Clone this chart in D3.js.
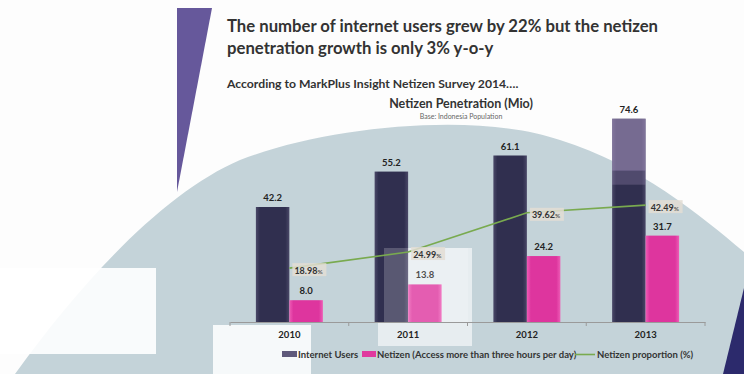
<!DOCTYPE html>
<html>
<head>
<meta charset="utf-8">
<script src="https://cdn.jsdelivr.net/npm/d3@7"></script>
<style>
  body { margin: 0; background: #fff; }
  svg { display: block; font-family: Lato, "Open Sans", sans-serif; }
</style>
</head>
<body>
<div id="chart"></div>
<script>
// data
var years = ['2010', '2011', '2012', '2013'];
var internetUsers = [42.2, 55.2, 61.1, 74.6];
var netizens = [8.0, 13.8, 24.2, 31.7];
var proportion = [18.98, 24.99, 39.62, 42.49];
var seriesNames = ['Internet Users', 'Netizen (Access more than three hours per day)', 'Netizen proportion (%)'];

var W = 744, H = 374;
var svg = d3.select('#chart').append('svg').attr('width', W).attr('height', H);

var defs = svg.append('defs');
function barGrad(id, edge, mid) {
  var g = defs.append('linearGradient').attr('id', id).attr('x1', 0).attr('x2', 1).attr('y1', 0).attr('y2', 0);
  g.append('stop').attr('offset', '0%').attr('stop-color', edge);
  g.append('stop').attr('offset', '12%').attr('stop-color', mid);
  g.append('stop').attr('offset', '88%').attr('stop-color', mid);
  g.append('stop').attr('offset', '100%').attr('stop-color', edge);
}
barGrad('gNavy', '#4a4868', '#302f4f');
barGrad('gPink', '#ee5cb6', '#de359e');

// slide background
svg.append('rect').attr('width', W).attr('height', H).attr('fill', '#fdfdfd');
svg.append('path')
   .attr('d', 'M15,374 C90,270 170,190 240,160 C330,125 480,112 560,140 C640,165 700,215 744,252 L744,374 Z')
   .attr('fill', '#c4d3d9');
svg.append('path').attr('d', 'M177,8 L212,8 L177,192 Z').attr('fill', '#66589b');
svg.append('path').attr('d', 'M744,288 L744,374 L723,374 Z').attr('fill', '#2c2a6c');

// washed-out patches of the screen capture (behind the chart)
var patches = [
  [0, 268, 156, 86, 0.9],
  [213, 325, 98, 49, 0.85],
  [378, 248, 94, 98, 0.6]
];
svg.append('g').selectAll('rect').data(patches).enter().append('rect')
   .attr('x', function(d){ return d[0]; }).attr('y', function(d){ return d[1]; })
   .attr('width', function(d){ return d[2]; }).attr('height', function(d){ return d[3]; })
   .attr('fill', '#fff').attr('opacity', function(d){ return d[4]; });

// titles
svg.append('text').attr('x', 227).attr('y', 32).attr('font-size', 16.7).attr('font-weight', 700).attr('fill', '#333')
   .text('The number of internet users grew by 22% but the netizen');
svg.append('text').attr('x', 227).attr('y', 54).attr('font-size', 16.7).attr('font-weight', 700).attr('fill', '#333')
   .text('penetration growth is only 3% y-o-y');
svg.append('text').attr('x', 227).attr('y', 88).attr('font-size', 12.2).attr('font-weight', 700).attr('fill', '#333')
   .text('According to MarkPlus Insight Netizen Survey 2014….');
svg.append('text').attr('x', 461).attr('y', 108).attr('text-anchor', 'middle').attr('font-size', 12.5).attr('font-weight', 700).attr('fill', '#333')
   .text('Netizen Penetration (Mio)');
svg.append('text').attr('x', 461).attr('y', 119).attr('text-anchor', 'middle').attr('font-size', 7).attr('fill', '#666')
   .text('Base: Indonesia Population');

// scales
var baseY = 322;
var x0 = d3.scaleBand().domain(years).range([230, 705]);
var x1 = d3.scaleBand().domain(['internet', 'netizen'])
   .range([x0.bandwidth() / 2 - 33.5, x0.bandwidth() / 2 + 33.5]);
var y = d3.scaleLinear().domain([0, 80]).range([baseY, baseY - 218]);
var yPct = d3.scaleLinear().domain([0, 50]).range([baseY - 3, baseY - 137]);

// axis
var axis = d3.axisBottom(x0).tickSize(0).tickPadding(9);
var ax = svg.append('g').attr('transform', 'translate(0,' + baseY + ')').call(axis);
ax.select('.domain').attr('stroke', '#9a9a9a');
ax.selectAll('.tick text').attr('font-size', 9.5).attr('font-weight', 700).attr('fill', '#222')
  .attr('font-family', 'Lato, "Open Sans", sans-serif');
svg.append('g').selectAll('line').data(years.concat(['end']))
   .enter().append('line')
   .attr('x1', function(d, i){ return i < years.length ? x0(d) : x0.range()[1]; })
   .attr('x2', function(d, i){ return i < years.length ? x0(d) : x0.range()[1]; })
   .attr('y1', baseY).attr('y2', baseY + 4).attr('stroke', '#9a9a9a');

// bars
var groups = svg.append('g').selectAll('g').data(years).enter().append('g')
   .attr('transform', function(d){ return 'translate(' + x0(d) + ',0)'; });

groups.append('rect')
   .attr('x', x1('internet')).attr('width', x1.bandwidth())
   .attr('y', function(d, i){ return y(internetUsers[i]); })
   .attr('height', function(d, i){ return baseY - y(internetUsers[i]); })
   .attr('fill', 'url(#gNavy)');
groups.append('rect')
   .attr('x', x1('netizen')).attr('width', x1.bandwidth())
   .attr('y', function(d, i){ return y(netizens[i]); })
   .attr('height', function(d, i){ return baseY - y(netizens[i]); })
   .attr('fill', 'url(#gPink)');

// washed-out tint on the top of the last internet bar and over 2011
var last = years.length - 1;
var lastX = x0(years[last]) + x1('internet');
svg.append('rect').attr('x', lastX).attr('width', x1.bandwidth())
   .attr('y', y(internetUsers[last])).attr('height', 52)
   .attr('fill', '#b09cc8').attr('opacity', 0.55);
svg.append('rect').attr('x', lastX).attr('width', x1.bandwidth())
   .attr('y', y(internetUsers[last]) + 52).attr('height', 14)
   .attr('fill', '#b09cc8').attr('opacity', 0.25);
svg.append('rect').attr('x', 384).attr('y', 248).attr('width', 84).attr('height', 74)
   .attr('fill', '#fff').attr('opacity', 0.2);

groups.append('text')
   .attr('x', x1('internet') + x1.bandwidth() / 2)
   .attr('y', function(d, i){ return y(internetUsers[i]) - 6; })
   .attr('text-anchor', 'middle').attr('font-size', 9.5).attr('font-weight', 700).attr('fill', '#222')
   .text(function(d, i){ return internetUsers[i].toFixed(1); });
groups.append('text')
   .attr('x', x1('netizen') + x1.bandwidth() / 2)
   .attr('y', function(d, i){ return y(netizens[i]) - 6; })
   .attr('text-anchor', 'middle').attr('font-size', 9.5).attr('font-weight', 700).attr('fill', '#222')
   .text(function(d, i){ return netizens[i].toFixed(1); });

// proportion line
var line = d3.line()
   .x(function(d, i){ return x0(years[i]) + x0.bandwidth() / 2; })
   .y(function(d){ return yPct(d); });
svg.append('path').datum(proportion).attr('d', line)
   .attr('fill', 'none').attr('stroke', '#79aa4f').attr('stroke-width', 1.6);

var pl = svg.append('g').selectAll('g').data(proportion).enter().append('g')
   .attr('transform', function(d, i){
     return 'translate(' + (x0(years[i]) + x0.bandwidth() / 2 + 3) + ',' + (yPct(d) + 2) + ')';
   });
pl.append('rect').attr('x', 0).attr('y', -7).attr('width', 34).attr('height', 13)
   .attr('fill', '#e3ddd3').attr('opacity', 0.85);
var pt = pl.append('text').attr('x', 2).attr('y', 3.5).attr('font-size', 9).attr('font-weight', 700).attr('fill', '#333');
pt.append('tspan').text(function(d){ return d.toFixed(2); });
pt.append('tspan').attr('font-size', 6.5).attr('font-weight', 400).text('%');

// legend
var lg = svg.append('g').attr('font-size', 9.5).attr('font-weight', 700).attr('fill', '#333');
lg.append('rect').attr('x', 282).attr('y', 351).attr('width', 15).attr('height', 6).attr('fill', '#5f5a7b');
lg.append('text').attr('x', 298).attr('y', 358).text(seriesNames[0]);
lg.append('rect').attr('x', 362).attr('y', 351).attr('width', 14).attr('height', 6).attr('fill', '#e0399f');
lg.append('text').attr('x', 377).attr('y', 358).text(seriesNames[1]);
lg.append('line').attr('x1', 575).attr('x2', 595).attr('y1', 354.5).attr('y2', 354.5)
   .attr('stroke', '#79aa4f').attr('stroke-width', 1.6);
lg.append('text').attr('x', 597).attr('y', 358).text(seriesNames[2]);
</script>
</body>
</html>
